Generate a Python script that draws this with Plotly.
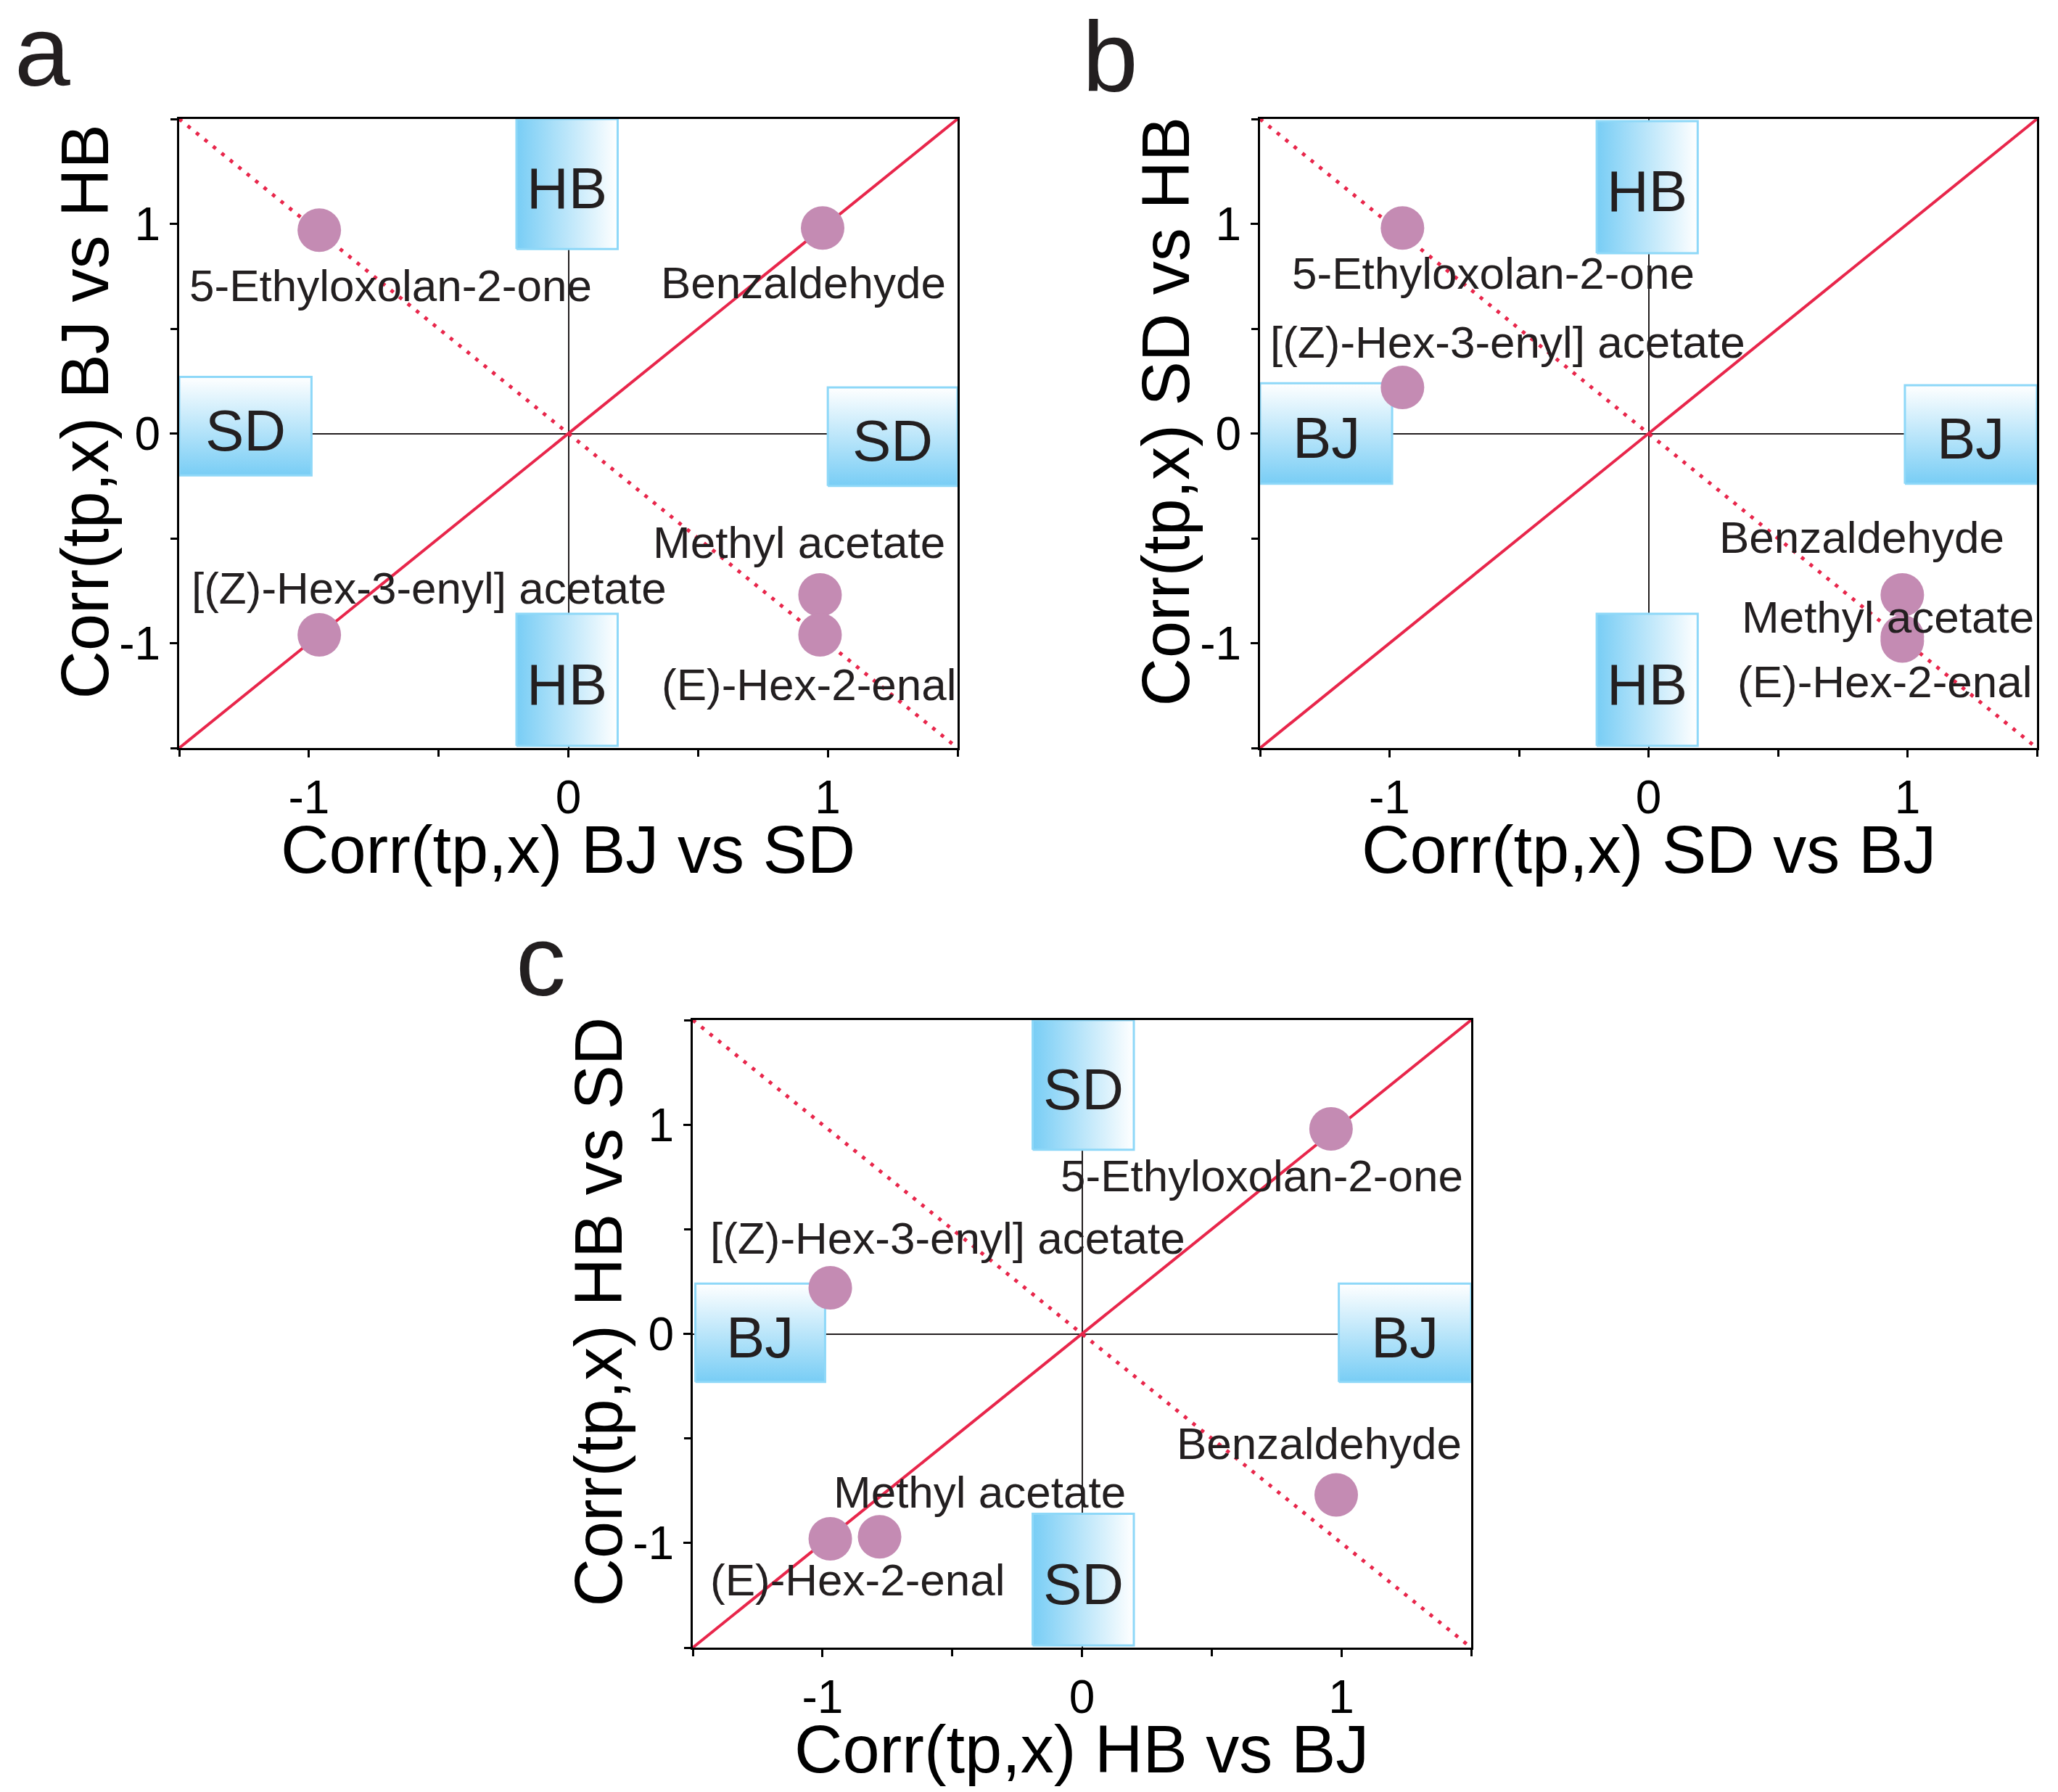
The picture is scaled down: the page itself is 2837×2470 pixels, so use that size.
import plotly.graph_objects as go

# ---------------- data ----------------
compounds = ["5-Ethyloxolan-2-one", "Benzaldehyde", "Methyl acetate",
             "(E)-Hex-2-enal", "[(Z)-Hex-3-enyl] acetate"]

# panel a : x = Corr BJ vs SD, y = Corr BJ vs HB
a_x = [-0.96, 0.98, 0.97, 0.97, -0.96]
a_y = [0.97, 0.98, -0.77, -0.96, -0.96]
# panel b : x = Corr SD vs BJ, y = Corr SD vs HB
b_x = [-0.95, 0.98, 0.98, 0.98, -0.95]
b_y = [0.98, -0.77, -0.97, -0.99, 0.22]
# panel c : x = Corr HB vs BJ, y = Corr HB vs SD
c_x = [0.96, 0.98, -0.78, -0.97, -0.97]
c_y = [0.98, -0.77, -0.97, -0.98, 0.22]

tick_vals = [-1, 0, 1]
tick_text = ["-1", "0", "1"]

panel_letters = ["a", "b", "c"]
x_titles = ["Corr(tp,x) BJ vs SD", "Corr(tp,x) SD vs BJ", "Corr(tp,x) HB vs BJ"]
y_titles = ["Corr(tp,x) BJ vs HB", "Corr(tp,x) SD vs HB", "Corr(tp,x) HB vs SD"]
vert_box_labels = ["HB", "HB", "SD"]   # top / bottom boxes
side_box_labels = ["SD", "BJ", "BJ"]   # left / right boxes

# ---------------- style / layout ----------------
W, H = 2837, 2470
FONT = "Liberation Sans"
TXT = "#231F20"
RED = "#E8264B"
DOT = "#C48BB3"
BLUE = "#78CDF5"
BORDER = "#8ED8F8"
RNG = [-1.5, 1.5]

# label offsets in px (xshift, yshift) per panel, order as compounds
offsets = {
    "a": [(98, -76), (-27, -75), (-29, 73), (-15, -69), (151, 64)],
    "b": [(125, -62), (-56, 80), (-20, 27), (-24, -56), (145, 62)],
    "c": [(-95, -65), (-24, 71), (138, 62), (38, -56), (162, 69)],
}

# plot areas in pixels (left, top, right, bottom)
areas = {
    "a": (247, 164, 1320, 1031),
    "b": (1737, 164, 2808, 1031),
    "c": (955, 1406, 2028, 2271),
}

# boxes in data coords per panel: top, bottom, left, right  (x0,x1,y0,y1)
boxes = {
    "a": [(-0.20, 0.19, 0.88, 1.5), (-0.20, 0.19, -1.49, -0.86),
          (-1.5, -0.99, -0.20, 0.27), (1.0, 1.5, -0.25, 0.22)],
    "b": [(-0.20, 0.19, 0.86, 1.49), (-0.20, 0.19, -1.49, -0.86),
          (-1.5, -0.99, -0.24, 0.24), (0.99, 1.5, -0.24, 0.23)],
    "c": [(-0.19, 0.20, 0.88, 1.5), (-0.19, 0.20, -1.49, -0.86),
          (-1.49, -0.99, -0.23, 0.24), (0.99, 1.5, -0.23, 0.24)],
}

data_sets = {"a": (a_x, a_y), "b": (b_x, b_y), "c": (c_x, c_y)}

fig = go.Figure()
annotations = []

for i, p in enumerate(["a", "b", "c"]):
    sfx = "" if i == 0 else str(i + 1)
    xref, yref = "x" + sfx, "y" + sfx
    l, t, r, b = areas[p]
    xdom = [l / W, r / W]
    ydom = [1 - b / H, 1 - t / H]
    ax_common = dict(
        range=RNG, tickvals=tick_vals, ticktext=tick_text,
        ticks="outside", ticklen=10, tickwidth=3, tickcolor="#000",
        showline=True, linecolor="#000", linewidth=3, mirror=True,
        showgrid=False, zeroline=True, zerolinecolor=TXT, zerolinewidth=2,
        tickfont=dict(family=FONT, size=64, color="#000"),
        minor=dict(tickvals=[-1.5, -0.5, 0.5, 1.5], ticks="outside",
                   ticklen=9, tickwidth=3, tickcolor="#000"),
        fixedrange=True,
    )
    fig.layout["xaxis" + sfx] = dict(domain=xdom, anchor=yref, **ax_common)
    fig.layout["yaxis" + sfx] = dict(domain=ydom, anchor=xref, **ax_common)

    # boxes with gradients
    for k, (x0, x1, y0, y1) in enumerate(boxes[p]):
        if k < 2:
            grad = dict(type="horizontal", colorscale=[[0, BLUE], [1, "#FFFFFF"]])
            lab = vert_box_labels[i]
        else:
            grad = dict(type="vertical", colorscale=[[0, BLUE], [1, "#FFFFFF"]])
            lab = side_box_labels[i]
        fig.add_trace(go.Scatter(
            x=[x0, x1, x1, x0, x0], y=[y0, y0, y1, y1, y0],
            mode="lines", fill="toself", fillgradient=grad,
            line=dict(color=BORDER, width=3),
            xaxis=xref, yaxis=yref, hoverinfo="skip", showlegend=False))
        annotations.append(dict(
            x=(x0 + x1) / 2, y=(y0 + y1) / 2, xref=xref, yref=yref,
            text=lab, showarrow=False, xanchor="center", yanchor="middle",
            yshift=-6, font=dict(family=FONT, size=80, color=TXT)))

    # reference diagonals
    fig.add_trace(go.Scatter(
        x=RNG, y=RNG, mode="lines", line=dict(color=RED, width=4),
        xaxis=xref, yaxis=yref, hoverinfo="skip", showlegend=False))
    fig.add_trace(go.Scatter(
        x=RNG, y=RNG[::-1], mode="lines",
        line=dict(color=RED, width=5, dash="5px,10px"),
        xaxis=xref, yaxis=yref, hoverinfo="skip", showlegend=False))

    xs, ys = data_sets[p]
    fig.add_trace(go.Scatter(
        x=xs, y=ys, mode="markers",
        marker=dict(size=60, color=DOT, line=dict(width=0)),
        xaxis=xref, yaxis=yref, showlegend=False))

    for name, xv, yv, (dx, dy) in zip(compounds, xs, ys, offsets[p]):
        annotations.append(dict(
            x=xv, y=yv, xref=xref, yref=yref, text=name, showarrow=False,
            xanchor="center", yanchor="middle", xshift=dx, yshift=dy,
            font=dict(family=FONT, size=62, color=TXT)))

    # axis titles
    annotations.append(dict(
        x=(l + r) / 2 / W, y=1 - (b + 140) / H, xref="paper", yref="paper",
        text=x_titles[i], showarrow=False, xanchor="center", yanchor="middle",
        font=dict(family=FONT, size=92, color="#000")))
    annotations.append(dict(
        x=(l - 131) / W, y=1 - ((t + b) / 2 - 30) / H, xref="paper", yref="paper",
        text=y_titles[i], showarrow=False, xanchor="center", yanchor="middle",
        textangle=-90, font=dict(family=FONT, size=92, color="#000")))

letter_pos = {"a": (18, 70), "b": (1490, 78), "c": (709, 1324)}
for p in ["a", "b", "c"]:
    lx, ly = letter_pos[p]
    annotations.append(dict(
        x=lx / W, y=1 - ly / H, xref="paper", yref="paper", text=p,
        showarrow=False, xanchor="left", yanchor="middle",
        font=dict(family=FONT, size=138, color=TXT)))

fig.update_layout(
    width=W, height=H, margin=dict(l=0, r=0, t=0, b=0),
    paper_bgcolor="white", plot_bgcolor="white",
    annotations=annotations, showlegend=False,
)

fig.write_html("out.html",
               config={"displayModeBar": False},
               post_script="document.body.style.margin='0';document.body.style.padding='0';")
